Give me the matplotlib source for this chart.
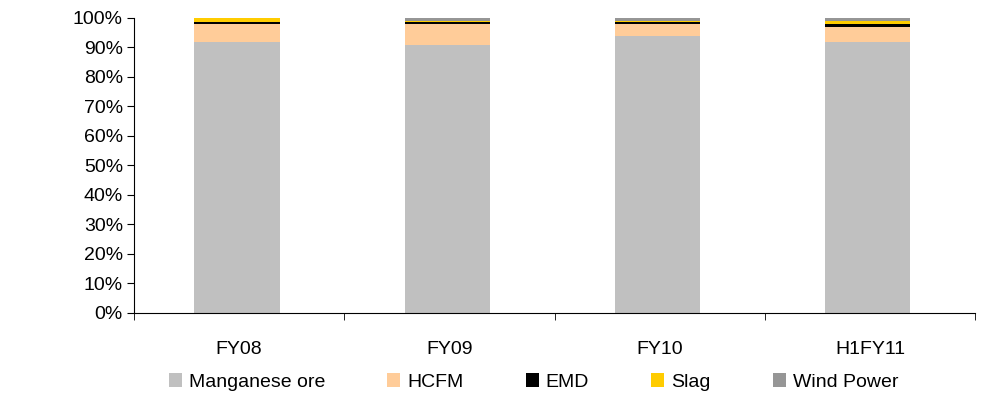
import numpy as np
import matplotlib
matplotlib.use("Agg")
import matplotlib.pyplot as plt
from matplotlib.ticker import FixedLocator, PercentFormatter

plt.rcParams["font.family"] = ["Liberation Sans", "DejaVu Sans"]

categories = ["FY08", "FY09", "FY10", "H1FY11"]
series_names = ["Manganese ore", "HCFM", "EMD", "Slag", "Wind Power"]
manganese_ore = [91.9, 90.8, 93.9, 91.9]
hcfm = [6.1, 7.1, 4.1, 5.1]
emd = [0.7, 0.6, 0.6, 1.0]
slag = [1.3, 0.3, 0.3, 1.0]
wind_power = [0.0, 1.2, 1.1, 1.0]
colors = ["#C0C0C0", "#FFCC99", "#000000", "#FFCC00", "#969696"]

fig = plt.figure(figsize=(9.89, 3.98), dpi=100)
ax = fig.add_axes([0.1355, 0.2136, 0.8505, 0.7414])

x = np.arange(len(categories))
bottom = np.zeros(len(categories))
for name, vals, c in zip(series_names, [manganese_ore, hcfm, emd, slag, wind_power], colors):
    ax.bar(x - 0.01, vals, bottom=bottom, width=0.405, color=c, label=name)
    bottom += np.array(vals)

ax.set_xlim(-0.5, len(categories) - 0.5)
ax.set_ylim(0, 100)
ax.set_yticks(np.arange(0, 101, 10))
ax.yaxis.set_major_formatter(PercentFormatter(decimals=0))
ax.set_xticks(x)
ax.set_xticklabels(categories)
ax.xaxis.set_minor_locator(FixedLocator(np.arange(-0.5, len(categories), 1.0)))
ax.tick_params(axis="x", which="major", length=0, pad=20, labelsize=14)
ax.tick_params(axis="x", which="minor", length=5, direction="out")
ax.tick_params(axis="y", length=5, direction="out", labelsize=14, pad=3)
for side in ("top", "right"):
    ax.spines[side].set_visible(False)

ax.legend(loc="upper center", bbox_to_anchor=(0.475, -0.172), ncol=5, frameon=False,
          fontsize=14, handlelength=0.67, handleheight=0.67, handletextpad=0.36,
          columnspacing=3.2, borderpad=0)

fig.savefig("out.png", dpi=100)
